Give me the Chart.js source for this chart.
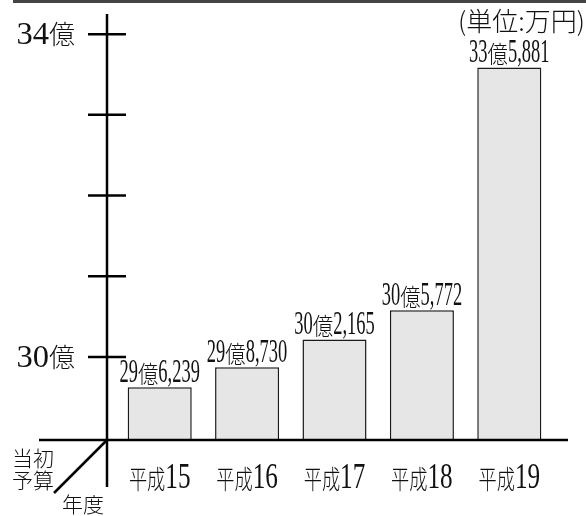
<!DOCTYPE html>
<html>
<head>
<meta charset="utf-8">
<script src="https://cdn.jsdelivr.net/npm/chart.js@4.4.1/dist/chart.umd.min.js"></script>
<style>
  html, body { margin: 0; padding: 0; background: #ffffff; }
  #wrap { width: 586px; height: 516px; position: relative; }
</style>
</head>
<body>
<div id="wrap"><canvas id="c" width="586" height="516"></canvas></div>
<script>
// ---- data ----
const categories = ['平成15', '平成16', '平成17', '平成18', '平成19'];
const budgetValues = [29.6239, 29.8730, 30.2165, 30.5772, 33.5881]; // 億円
const valueLabels = ['29億6,239', '29億8,730', '30億2,165', '30億5,772', '33億5,881'];
const yTickValues = [30, 31, 32, 33, 34];
const yTickLabels = ['30億', '', '', '', '34億'];
const unitLabel = '(単位:万円)';
const cornerTop = ['当初', '予算'];
const cornerBottom = '年度';
const yMin = 28.97;
const yMax = 34.25;

const SERIF = '"Liberation Serif", "DejaVu Serif", serif';
const CJK = '"Noto Sans CJK JP", "Noto Sans", sans-serif';

function drawText(ctx, text, x, y, font, align, baseline, sx) {
  ctx.save();
  ctx.translate(x, y);
  ctx.scale(sx || 1, 1);
  ctx.font = font;
  ctx.textAlign = align;
  ctx.textBaseline = baseline;
  ctx.fillStyle = '#111111';
  ctx.fillText(text, 0, 0);
  ctx.restore();
}

// draws text centered at cx, splitting CJK and Latin runs with separate fonts / squeeze
function drawMixed(ctx, text, cx, baseY, latin, cjk) {
  const runs = [];
  for (const ch of text) {
    const isCjk = /[\u3000-\u9fff\uff00-\uffef]/.test(ch);
    const last = runs[runs.length - 1];
    if (last && last.cjk === isCjk) last.t += ch; else runs.push({ t: ch, cjk: isCjk });
  }
  ctx.save();
  let total = 0;
  runs.forEach(r => {
    const st = r.cjk ? cjk : latin;
    ctx.font = st.font;
    r.w = ctx.measureText(r.t).width * st.sx;
    total += r.w;
  });
  let x = cx - total / 2;
  runs.forEach(r => {
    const st = r.cjk ? cjk : latin;
    ctx.save();
    ctx.translate(x, baseY + (st.dy || 0));
    ctx.scale(st.sx, 1);
    ctx.font = st.font;
    ctx.textAlign = 'left';
    ctx.textBaseline = 'alphabetic';
    ctx.fillStyle = '#111111';
    ctx.fillText(r.t, 0, 0);
    ctx.restore();
    x += r.w;
  });
  ctx.restore();
}

const decorPlugin = {
  id: 'decor',
  afterDatasetsDraw(chart) {
    const ctx = chart.ctx;
    const ca = chart.chartArea;
    const xs = chart.scales.x;
    const ys = chart.scales.y;
    const axisX = ca.left - 9;
    const baseY = ys.getPixelForValue(yMin);

    // header strip
    ctx.save();
    ctx.fillStyle = '#444444';
    ctx.fillRect(13, 0, chart.width - 13, 3);

    ctx.strokeStyle = '#000000';
    ctx.lineWidth = 2.5;
    ctx.lineCap = 'butt';
    // vertical axis
    ctx.beginPath();
    ctx.moveTo(axisX, ys.getPixelForValue(yMax));
    ctx.lineTo(axisX, baseY + 47);
    ctx.stroke();
    // horizontal axis
    ctx.beginPath();
    ctx.moveTo(39, baseY);
    ctx.lineTo(ca.right + 15, baseY);
    ctx.stroke();
    // diagonal corner line
    ctx.beginPath();
    ctx.moveTo(axisX, baseY);
    ctx.lineTo(axisX - 53, baseY + 53);
    ctx.stroke();
    // y ticks crossing axis
    yTickValues.forEach((v, i) => {
      const py = ys.getPixelForValue(v);
      ctx.beginPath();
      ctx.moveTo(axisX - 19, py);
      ctx.lineTo(axisX + 19, py);
      ctx.stroke();
      if (yTickLabels[i]) {
        const digits = yTickLabels[i].replace('億', '');
        ctx.save();
        ctx.font = '300 26px ' + CJK;
        const wk = ctx.measureText('億').width;
        ctx.restore();
        drawText(ctx, '億', axisX - 32, py + 10, '300 26px ' + CJK, 'right', 'alphabetic', 1);
        drawText(ctx, digits, axisX - 32 - wk, py + 10, '31px ' + SERIF, 'right', 'alphabetic', 1.05);
      }
    });
    ctx.restore();

    // value labels above bars
    const meta = chart.getDatasetMeta(0);
    meta.data.forEach((bar, i) => {
      drawMixed(ctx, valueLabels[i], bar.x, bar.y - 5,
        { font: '33px ' + SERIF, sx: 0.56 },
        { font: '300 24px ' + CJK, sx: 0.85, dy: 1 });
    });

    // category labels
    categories.forEach((c, i) => {
      const px = xs.getPixelForValue(i);
      drawMixed(ctx, c, px, baseY + 48,
        { font: '35px ' + SERIF, sx: 0.72 },
        { font: '300 26px ' + CJK, sx: 0.7, dy: 1 });
    });

    // unit label
    drawText(ctx, unitLabel, chart.width - 1, 31, '300 26px ' + CJK, 'right', 'alphabetic', 1);

    // corner labels
    drawText(ctx, cornerTop[0], 12, 466, '300 21px ' + CJK, 'left', 'alphabetic', 1);
    drawText(ctx, cornerTop[1], 12, 488, '300 21px ' + CJK, 'left', 'alphabetic', 1);
    drawText(ctx, cornerBottom, 62, 512, '300 21px ' + CJK, 'left', 'alphabetic', 1);
  }
};

new Chart(document.getElementById('c'), {
  type: 'bar',
  data: {
    labels: categories,
    datasets: [{
      data: budgetValues,
      backgroundColor: '#e6e6e6',
      borderColor: '#1a1a1a',
      borderWidth: 1.5,
      borderSkipped: 'bottom',
      barPercentage: 0.733,
      categoryPercentage: 1.0
    }]
  },
  options: {
    responsive: false,
    animation: false,
    devicePixelRatio: 1,
    layout: { padding: { left: 116, right: 33, top: 14, bottom: 76 } },
    plugins: { legend: { display: false }, tooltip: { enabled: false } },
    scales: {
      x: { display: false, offset: true },
      y: { display: false, min: yMin, max: yMax }
    }
  },
  plugins: [decorPlugin]
});
</script>
</body>
</html>
